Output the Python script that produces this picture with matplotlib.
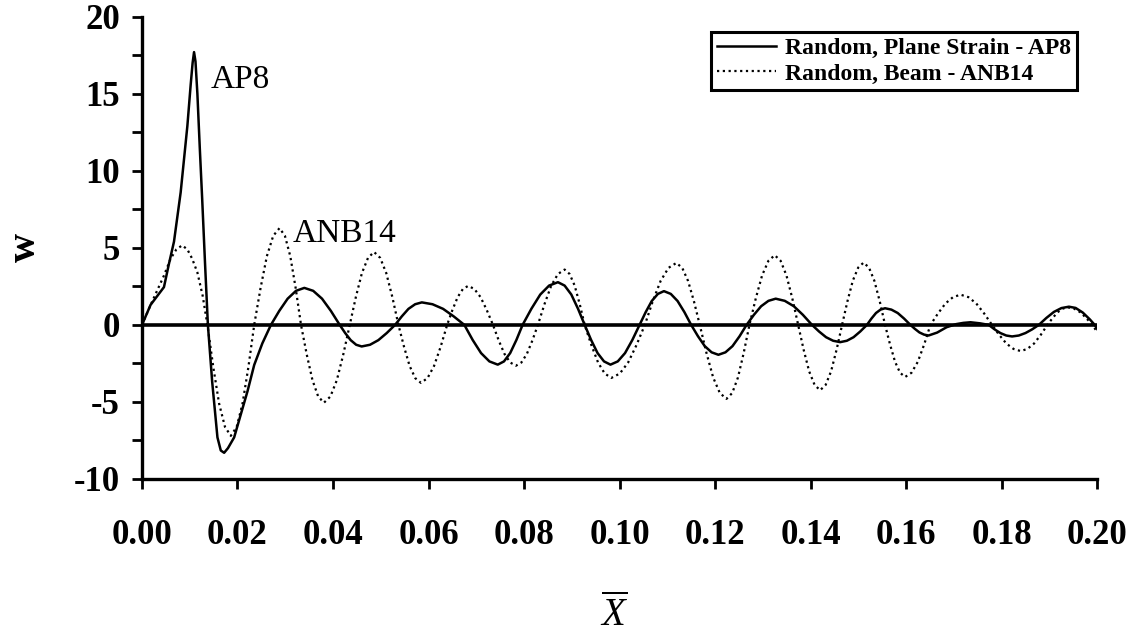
import numpy as np
import matplotlib as mpl
mpl.use('Agg')
import matplotlib.pyplot as plt
from matplotlib.ticker import FixedLocator, MultipleLocator

plt.rcParams['font.family'] = ['Liberation Serif', 'DejaVu Serif']
plt.rcParams['mathtext.fontset'] = 'custom'
plt.rcParams['mathtext.it'] = 'Liberation Serif:italic'
plt.rcParams['mathtext.rm'] = 'Liberation Serif'
plt.rcParams['axes.unicode_minus'] = False

# deflection w along the normalised length X, plane strain model AP8
x_ap8 = [0.0000, 0.0018, 0.0035, 0.0046, 0.0056, 0.0067, 0.0081, 0.0095, 0.0102, 0.0106,
         0.0109, 0.0112, 0.0116, 0.0121, 0.0126, 0.0132, 0.0138, 0.0147, 0.0158, 0.0165,
         0.0172, 0.0180, 0.0193, 0.0207, 0.0221, 0.0235, 0.0252, 0.0270,
         0.02875, 0.0305, 0.03225, 0.0340, 0.03585, 0.0377, 0.03955, 0.0414,
         0.04255, 0.0437, 0.04485, 0.0460, 0.04775, 0.0495, 0.05125, 0.0530,
         0.0544, 0.0558, 0.0572, 0.0586, 0.06083, 0.06305, 0.06528, 0.0675,
         0.06925, 0.0710, 0.07275, 0.0745, 0.0758, 0.0771, 0.0784, 0.0797,
         0.08155, 0.0834, 0.08525, 0.0871, 0.0885, 0.0899, 0.0913, 0.0927,
         0.09405, 0.0954, 0.09675, 0.0981, 0.09963, 0.10115, 0.10268, 0.1042,
         0.10548, 0.10675, 0.10803, 0.1093, 0.11073, 0.11215, 0.11358, 0.1150,
         0.11643, 0.11785, 0.11928, 0.1207, 0.12218, 0.12365, 0.12513, 0.1266,
         0.12813, 0.12965, 0.13118, 0.1327, 0.1346, 0.1365, 0.1384, 0.1403,
         0.14178, 0.14325, 0.14473, 0.1462, 0.1476, 0.1490, 0.1504, 0.1518,
         0.15275, 0.1537, 0.15465, 0.1556, 0.15693, 0.15825, 0.15958, 0.1609,
         0.16185, 0.1628, 0.16375, 0.1647, 0.1665, 0.1685, 0.1705, 0.1720,
         0.1735, 0.1755, 0.1773,
         0.17853, 0.17975, 0.18098, 0.1822, 0.1836, 0.1850, 0.1864, 0.1878,
         0.18938, 0.19095, 0.19253, 0.1941, 0.1955, 0.1970, 0.1985, 0.1995, 0.2003]
w_ap8 = [0.0, 1.3, 2.0, 2.45, 3.9, 5.4, 8.6, 12.9, 15.6, 17.0,
         17.7, 17.1, 15.0, 11.5, 8.2, 4.0, 0.0, -3.7, -7.3, -8.15,
         -8.3, -8.0, -7.3, -5.8, -4.3, -2.6, -1.2, 0.0,
         0.91, 1.70, 2.21, 2.4, 2.21, 1.70, 0.91, 0.0,
         -0.53, -0.99, -1.29, -1.4, -1.29, -0.99, -0.53, 0.0,
         0.55, 1.04, 1.34, 1.46, 1.34, 1.04, 0.55, 0.0,
         -0.98, -1.83, -2.37, -2.58, -2.37, -1.83, -0.98, 0.0,
         1.05, 1.97, 2.55, 2.77, 2.55, 1.97, 1.05, 0.0,
         -0.98, -1.83, -2.37, -2.58, -2.37, -1.83, -0.98, 0.0,
         0.83, 1.55, 2.01, 2.19, 2.01, 1.55, 0.83, 0.0,
         -0.74, -1.38, -1.78, -1.94, -1.78, -1.38, -0.74, 0.0,
         0.65, 1.21, 1.56, 1.70, 1.56, 1.21, 0.65, 0.0,
         -0.43, -0.80, -1.03, -1.12, -1.03, -0.80, -0.43, 0.0,
         0.41, 0.77, 0.99, 1.08, 0.99, 0.77, 0.41, 0.0,
         -0.26, -0.49, -0.63, -0.69, -0.5, -0.15, 0.05, 0.13,
         0.17, 0.1, 0.0,
         -0.29, -0.53, -0.69, -0.75, -0.69, -0.53, -0.29, 0.0,
         0.45, 0.84, 1.09, 1.18, 1.1, 0.8, 0.35, 0.0, -0.4]

# beam model ANB14
x_anb14 = [0.0000, 0.0018, 0.0046, 0.0060, 0.0072, 0.0084, 0.0095, 0.0105, 0.0116, 0.0127, 0.0137,
           0.01493, 0.01615, 0.01738, 0.0186, 0.01983, 0.02105, 0.02228, 0.0235,
           0.02483, 0.02615, 0.02748, 0.0288, 0.02993, 0.03105, 0.03218, 0.0333,
           0.0345, 0.0357, 0.0369, 0.0381, 0.03945, 0.0408, 0.04215, 0.0435,
           0.04478, 0.04605, 0.04733, 0.0486, 0.04988, 0.05115, 0.05243, 0.0537,
           0.05488, 0.05605, 0.05723, 0.0584, 0.05978, 0.06115, 0.06253, 0.0639,
           0.0650, 0.0661, 0.0672, 0.0683, 0.0696, 0.0709, 0.0722, 0.0735,
           0.0747, 0.0759, 0.0771, 0.0783, 0.07945, 0.0806, 0.08175, 0.0829,
           0.0843, 0.0857, 0.0871, 0.0885, 0.08955, 0.0906, 0.09165, 0.0927,
           0.0941, 0.0955, 0.0969, 0.0983, 0.10005, 0.1018, 0.10355, 0.1053,
           0.10695, 0.1086, 0.11025, 0.1119, 0.11313, 0.11435, 0.11558, 0.1168,
           0.1182, 0.1196, 0.1210, 0.1224, 0.1236, 0.1248, 0.1260, 0.1272,
           0.12853, 0.12985, 0.13118, 0.1325, 0.13373, 0.13495, 0.13618, 0.1374,
           0.13855, 0.1397, 0.14085, 0.1420, 0.14315, 0.1443, 0.14545, 0.1466,
           0.14773, 0.14885, 0.14998, 0.1511, 0.15223, 0.15335, 0.15448, 0.1556,
           0.15665, 0.1577, 0.15875, 0.1598, 0.16113, 0.16245, 0.16378, 0.1651,
           0.16668, 0.16825, 0.16983, 0.1714, 0.17305, 0.1747, 0.17635, 0.1780,
           0.1795, 0.1810, 0.1825, 0.1840, 0.1854, 0.1868, 0.1882, 0.1896,
           0.19065, 0.1917, 0.19275, 0.1938, 0.1952, 0.1966, 0.1980, 0.1990, 0.2000]
w_anb14 = [0.0, 1.29, 3.2, 4.3, 4.9, 5.16, 4.9, 4.3, 3.4, 1.9, 0.0,
           -2.74, -5.11, -6.62, -7.2, -6.62, -5.11, -2.74, 0.0,
           2.39, 4.46, 5.78, 6.28, 5.78, 4.46, 2.39, 0.0,
           -1.92, -3.59, -4.65, -5.05, -4.65, -3.59, -1.92, 0.0,
           1.80, 3.36, 4.35, 4.73, 4.35, 3.36, 1.80, 0.0,
           -1.43, -2.67, -3.46, -3.76, -3.46, -2.67, -1.43, 0.0,
           0.96, 1.80, 2.33, 2.53, 2.33, 1.80, 0.96, 0.0,
           -1.01, -1.88, -2.44, -2.65, -2.44, -1.88, -1.01, 0.0,
           1.36, 2.55, 3.30, 3.59, 3.30, 2.55, 1.36, 0.0,
           -1.31, -2.44, -3.16, -3.44, -3.16, -2.44, -1.31, 0.0,
           1.53, 2.85, 3.70, 4.02, 3.70, 2.85, 1.53, 0.0,
           -1.82, -3.41, -4.42, -4.8, -4.42, -3.41, -1.82, 0.0,
           1.72, 3.21, 4.16, 4.52, 4.16, 3.21, 1.72, 0.0,
           -1.61, -3.01, -3.90, -4.24, -3.90, -3.01, -1.61, 0.0,
           1.54, 2.87, 3.72, 4.04, 3.72, 2.87, 1.54, 0.0,
           -1.28, -2.40, -3.11, -3.38, -3.11, -2.40, -1.28, 0.0,
           0.74, 1.39, 1.80, 1.96, 1.80, 1.39, 0.74, 0.0,
           -0.65, -1.21, -1.56, -1.70, -1.56, -1.21, -0.65, 0.0,
           0.43, 0.81, 1.05, 1.14, 1.05, 0.8, 0.35, 0.0, -0.45]

x_ticks = [0.00, 0.02, 0.04, 0.06, 0.08, 0.10, 0.12, 0.14, 0.16, 0.18, 0.20]
y_ticks = [-10, -5, 0, 5, 10, 15, 20]
labels = ['Random, Plane Strain - AP8', 'Random, Beam - ANB14']

fig = plt.figure(figsize=(11.35, 6.34), dpi=100)
ax = fig.add_axes([0.1251, 0.2445, 0.8415, 0.7292])

ax.axhline(0, color='black', lw=2.6, zorder=1)
ax.plot(x_ap8, w_ap8, color='black', lw=1.8, label=labels[0], zorder=3)
ax.plot(x_anb14, w_anb14, color='black', lw=1.6, ls=(0, (1, 1.6)), label=labels[1], zorder=2)

ax.set_xlim(0, 0.20)
ax.set_ylim(-10, 20)
ax.xaxis.set_major_locator(FixedLocator(x_ticks))
ax.set_xticklabels(['{:.2f}'.format(v) for v in x_ticks])
ax.yaxis.set_major_locator(FixedLocator(y_ticks))
ax.yaxis.set_minor_locator(MultipleLocator(2.5))

for s in ['top', 'right']:
    ax.spines[s].set_visible(False)
for s in ['left', 'bottom']:
    ax.spines[s].set_linewidth(2.4)

ax.tick_params(axis='both', which='both', direction='out', length=7, width=2)
ax.tick_params(axis='x', pad=22, labelsize=25)
ax.tick_params(axis='y', pad=9, labelsize=25)
for lab in ax.get_xticklabels() + ax.get_yticklabels():
    lab.set_fontweight('bold')

ax.set_ylabel('w', fontsize=29, fontweight='bold', va='center')
ax.yaxis.set_label_coords(-0.1225, 0.50)
ax.set_xlabel(r'$\overline{X}$', fontsize=28)
ax.xaxis.set_label_coords(0.494, -0.252)

ax.text(0.0144, 15.4, 'AP8', fontsize=24)
ax.text(0.0316, 5.4, 'ANB14', fontsize=24)

leg = ax.legend(loc='upper right', bbox_to_anchor=(1077 / 1135, 1 - 32 / 634),
                bbox_transform=fig.transFigure, fancybox=False, framealpha=1,
                edgecolor='black', prop={'weight': 'bold', 'size': 17},
                handlelength=2.5, handletextpad=0.4, borderpad=0.25,
                labelspacing=0.15, borderaxespad=0)
leg.get_frame().set_linewidth(2.2)

plt.savefig('out.png', dpi=100)
